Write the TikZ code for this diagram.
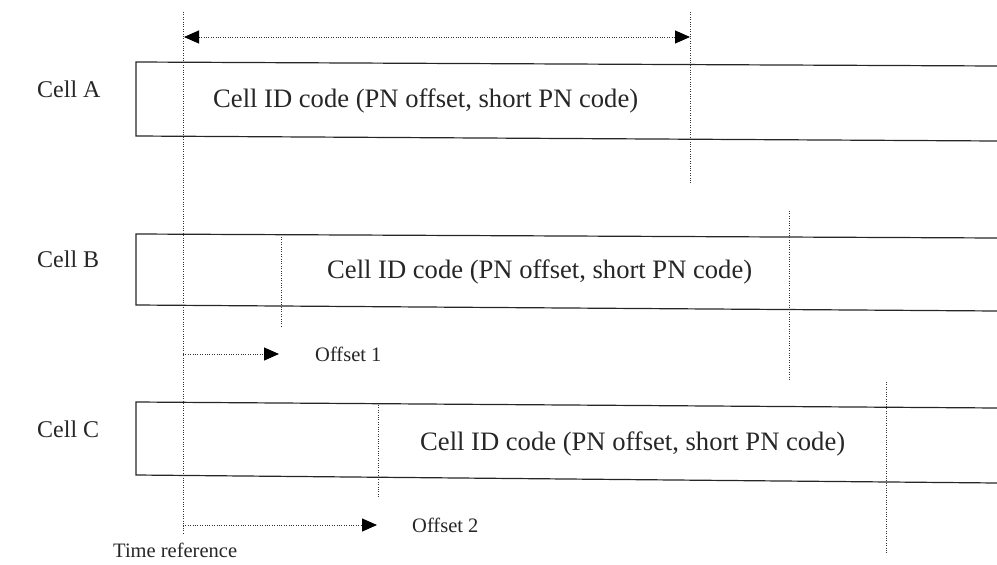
\documentclass[tikz,border=0pt]{standalone}
\usepackage{fontspec}
\setmainfont{Liberation Serif}
\usetikzlibrary{arrows.meta}
\begin{document}
\begin{tikzpicture}[x=1pt,y=-1pt,
  band/.style={line width=1.2pt, black!85},
  marker/.style={line width=1pt, black!80, dash pattern=on 0.9pt off 1.5pt},
  solidtip/.tip={Triangle[length=15pt,width=13pt,sep=0pt,color=black]},
  celllabel/.style={font=\fontsize{24}{30}\selectfont, text=black!85, anchor=base west, inner sep=0pt},
  codetext/.style={font=\fontsize{26.6}{32}\selectfont, text=black!85, anchor=base west, inner sep=0pt},
  note/.style={font=\fontsize{20.5}{24}\selectfont, text=black!85, anchor=base west, inner sep=0pt}]
\useasboundingbox (0,0) rectangle (997,565);

% common time reference
\coordinate (tref top) at (183,12);
\coordinate (tref bot) at (183,535);
\draw[marker] (tref top) -- (tref bot);
\node[note] (treflabel) at (113,557) {Time reference};

% ---- Cell A ----
\node[celllabel] (labelA) at (37,97) {Cell A};
\draw[band] (997,66) -- (136,62) -- (136,136) -- (997,141);
\node[codetext] (codeA) at (213,107) {Cell ID code (PN offset, short PN code)};
\coordinate (endA top) at (690,12);
\coordinate (endA bot) at (690,183);
\draw[marker] (endA top) -- (endA bot);
\coordinate (spanL) at (184,37);
\coordinate (spanR) at (690,37);
\draw[marker, solidtip-solidtip] (spanL) -- (spanR);

% ---- Cell B ----
\node[celllabel] (labelB) at (37,267) {Cell B};
\draw[band] (997,238) -- (136,234) -- (136,305) -- (997,311);
\node[codetext] (codeB) at (327,278) {Cell ID code (PN offset, short PN code)};
\coordinate (offB top) at (281,237);
\coordinate (offB bot) at (281,327);
\draw[marker] (offB top) -- (offB bot);
\coordinate (endB top) at (789,211);
\coordinate (endB bot) at (789,380);
\draw[marker] (endB top) -- (endB bot);
\coordinate (off1 start) at (183,354);
\coordinate (off1 end) at (279,354);
\draw[marker, -solidtip] (off1 start) -- (off1 end);
\node[note] (off1label) at (315,361) {Offset 1};

% ---- Cell C ----
\node[celllabel] (labelC) at (37,437) {Cell C};
\draw[band] (997,408) -- (136,402) -- (136,475) -- (997,483);
\node[codetext] (codeC) at (420,450) {Cell ID code (PN offset, short PN code)};
\coordinate (offC top) at (378,405);
\coordinate (offC bot) at (378,497);
\draw[marker] (offC top) -- (offC bot);
\coordinate (endC top) at (886,382);
\coordinate (endC bot) at (886,553);
\draw[marker] (endC top) -- (endC bot);
\coordinate (off2 start) at (183,525);
\coordinate (off2 end) at (377,525);
\draw[marker, -solidtip] (off2 start) -- (off2 end);
\node[note] (off2label) at (412,532) {Offset 2};
\end{tikzpicture}
\end{document}
